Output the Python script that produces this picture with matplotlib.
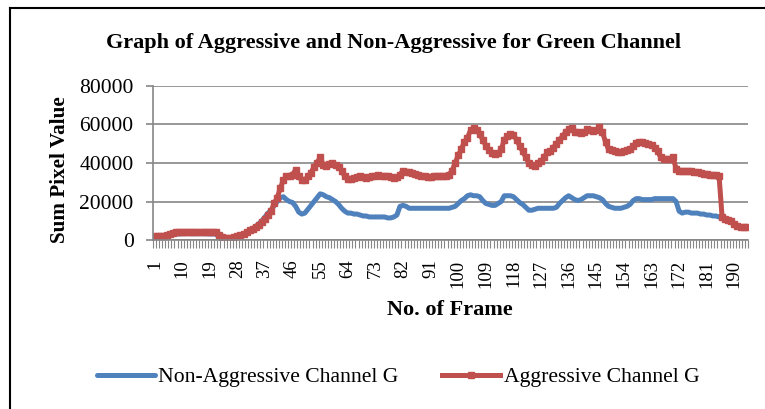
import numpy as np
import matplotlib
matplotlib.use("Agg")
import matplotlib.pyplot as plt
from matplotlib.lines import Line2D

# sum of green-channel pixel values per frame
non_aggressive = [
    1000, 1000, 1200, 1500, 2000,
    2500, 3000, 3200,
    3200, 3300, 3300, 3400, 3300, 3300, 3300, 3300, 3300, 3300, 3200, 3200, 3200,
    1500, 500, 200, 0, 100, 300, 800,
    1500, 2500, 3500, 4500, 5500, 7000, 8500, 10000,
    12000, 14000, 15500, 18000, 20000, 22000, 22500, 21000,
    20000, 19500, 17500, 14500, 13500, 14000,
    16000, 18000, 20000, 22000, 24000, 23500,
    22500, 22000, 21000, 20000, 18500, 16500, 15000, 14000,
    14000, 13500, 13500, 13000, 12500, 12500, 12000, 12000,
    12000, 12000, 12000, 12000, 11500, 11500, 12000, 13000, 17500,
    18000, 17500, 16500, 16500, 16500, 16500, 16500, 16500, 16500,
    16500, 16500, 16500, 16500, 16500, 16500, 16500, 17000, 17500,
    19000, 20500, 21500, 23000, 23500, 23000, 23000, 22500, 20500,
    19000, 18500, 18000, 18000, 19000, 20000, 23000, 23000,
    23000, 22500, 21000, 19500, 18500, 17000, 15500, 15500,
    16000, 16500, 16500, 16500, 16500, 16500, 16500, 17000, 19000,
    20500, 22000, 23000, 22000, 21000, 20500, 21000, 22000, 23000, 23000, 23000, 22500, 22000, 21000, 19000,
    17500, 17000, 16500, 16500, 16500, 17000, 17500, 18500, 20500, 21500,
    21500, 21000, 21000, 21000, 21000, 21500, 21500, 21500, 21500, 21500,
    21500, 21500, 20000, 15000, 14000, 14500, 14500, 14000, 14000, 14000, 13500, 13500, 13000, 13000, 12500, 12500, 12000, 11500,
    11000, 10500, 10000, 8500, 7500, 7000, 7000, 7000,
]

aggressive = [
    2000, 2000, 2000, 2200, 2500,
    3000, 3500, 4000,
    4000, 4200, 4200, 4300, 4200, 4300, 4200, 4200, 4200, 4200, 4200, 4100, 4100,
    2500, 1500, 1200, 1000, 1200, 1500, 2000,
    2500, 3200, 4000, 5000, 6000, 7000, 8000, 9500,
    11000, 13000, 15000, 19000, 22000, 27000, 31000, 33000,
    33500, 34000, 36500, 33000, 31000, 31000,
    33000, 35000, 38000, 40000, 43000, 39000,
    38500, 39500, 40000, 39000, 38000, 36000, 33000, 31500,
    31500, 32000, 32500, 33000, 32500, 32000, 32500, 33000,
    33500, 34000, 33500, 33000, 33000, 32500, 32000, 32500, 34000,
    36000, 35500, 35500, 35000, 34500, 34000, 33500, 33000, 32500,
    32500, 33000, 33000, 33000, 33500, 33500, 34000, 36000, 40000,
    44000, 47000, 51000, 53000, 57000, 58000, 57000, 55000, 52000,
    49000, 46500, 45000, 44500, 45000, 47000, 52000, 54000,
    55000, 54500, 52000, 49000, 46000, 43000, 40000, 39000,
    38500, 40000, 41000, 43000, 45500, 46000, 48000, 50000, 52000,
    54000, 56000, 57500, 58000, 56000, 56000, 55500, 56000, 57500, 57000, 56500, 57000, 58500, 56000, 51000,
    47000, 46500, 46000, 45500, 45500, 46000, 46500, 47000, 49000, 50500,
    51000, 51000, 50500, 50000, 49500, 48000, 46000, 43000, 42000, 42000,
    42000, 43000, 37000, 36000, 36000, 36000, 36000, 36000, 35500, 35500, 35000, 34500, 34500, 34000, 34000, 34000, 33500, 12000,
    11000, 10500, 10000, 8500, 7500, 7000, 7000, 7000,
]

frames = np.arange(1, len(aggressive) + 1)
label_frames = list(range(1, 191, 9))
y_ticks = [0, 20000, 40000, 60000, 80000]

BLUE = "#4F81BD"
RED = "#C0504D"
GRID = "#868686"
plt.rcParams["font.family"] = ["Liberation Serif", "DejaVu Serif"]

fig = plt.figure(figsize=(7.65, 4.09), dpi=100)
ax = fig.add_axes([0.2, 0.413, 0.778, 0.377])

ax.plot(frames, non_aggressive, color=BLUE, lw=3.6, solid_capstyle="round",
        label="Non-Aggressive Channel G")
ax.plot(frames, aggressive, color=RED, lw=3.6, marker="s", ms=3.8, mec=RED,
        label="Aggressive Channel G")

ax.set_xlim(0.5, len(frames) + 0.5)
ax.set_ylim(0, 80000)
ax.set_yticks(y_ticks)
ax.set_yticklabels([str(v) for v in y_ticks], fontsize=15.5)
ax.set_xticks(label_frames)
ax.set_xticklabels([str(v) for v in label_frames], rotation=90, fontsize=13.5)
ax.set_xticks(np.arange(0.5, len(frames) + 1), minor=True)
ax.tick_params(axis="x", which="major", length=0, pad=14)
ax.tick_params(axis="x", which="minor", length=6, color=GRID, width=0.8)
ax.tick_params(axis="y", length=5, color=GRID, width=1.2, pad=9)

ax.yaxis.grid(True, color=GRID, lw=1.2)
ax.set_axisbelow(True)
for s in ["top", "right"]:
    ax.spines[s].set_visible(False)
ax.spines["left"].set_color(GRID)
ax.spines["bottom"].set_color(GRID)
ax.spines["left"].set_linewidth(1.2)
ax.spines["bottom"].set_linewidth(1.2)

fig.text(0.514, 0.895, "Graph of Aggressive and Non-Aggressive for Green Channel",
         ha="center", va="center", fontsize=16, fontweight="bold")
fig.text(60 / 765, 1 - 170 / 409, "Sum Pixel Value", rotation=90, ha="center",
         va="center", fontsize=15.2, fontweight="bold")
fig.text(450 / 765, 1 - 310 / 409, "No. of Frame", ha="center", va="center",
         fontsize=16, fontweight="bold")

fig.legend(loc="center", bbox_to_anchor=(398 / 765, 0.078), ncol=2, frameon=False,
           fontsize=15.6, handlelength=2.7, handletextpad=0.15, columnspacing=2.0)

# outer chart frame (only top and left edges visible in the crop)
fig.add_artist(Line2D([10 / 765, 1], [1 - 8 / 409, 1 - 8 / 409], color="black", lw=1.5))
fig.add_artist(Line2D([10 / 765, 10 / 765], [0, 1 - 8 / 409], color="black", lw=1.5))

fig.savefig("out.png", dpi=100)
